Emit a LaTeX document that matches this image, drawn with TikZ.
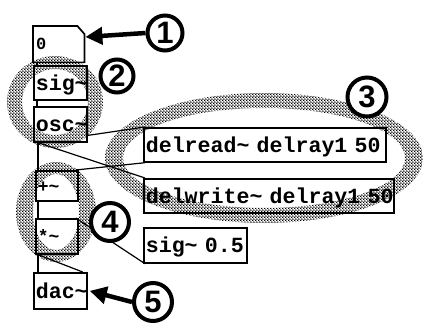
\documentclass[tikz,border=0pt]{standalone}
\usepackage{fontspec}
\newfontfamily\pdmono{Liberation Mono}
\newfontfamily\numfont{Liberation Sans}
\usetikzlibrary{calc,arrows.meta,patterns}
\pgfdeclarepatternformonly{halftone}{\pgfpointorigin}{\pgfpoint{3.2pt}{3.2pt}}{\pgfpoint{3.2pt}{3.2pt}}{%
  \pgfpathcircle{\pgfpoint{0.8pt}{0.8pt}}{1.05pt}%
  \pgfpathcircle{\pgfpoint{2.4pt}{2.4pt}}{1.05pt}%
  \pgfusepath{fill}}
\tikzset{
  pdbox/.style={draw, line width=1.7pt, fill=white, anchor=north west, inner xsep=2pt, inner ysep=0pt,
    text height=15pt, text depth=0pt, align=left, font=\pdmono\bfseries\fontsize{21.6}{21.6}\selectfont},
  smallbox/.style={pdbox, text height=13pt, font=\pdmono\bfseries\fontsize{18}{18}\selectfont},
  conn/.style={line width=1.2pt},
  ring/.style={pattern=halftone, even odd rule},
  numcirc/.style={circle, draw, line width=4pt, fill=white, inner sep=0pt, font=\numfont\bfseries\fontsize{31}{31}\selectfont},
  bigarrow/.style={line width=4.5pt, -{Triangle[length=17pt,width=17pt]}},
}
\begin{document}
\begin{tikzpicture}[x=1pt,y=-1pt]
\useasboundingbox (0,0) rectangle (423,323);
% box nodes
\node[anchor=north west, minimum width=51, minimum height=36, inner sep=0pt] (num) at (33,26) {};
\node[pdbox, minimum width=53, minimum height=34, text width=49] (sig) at (33,65) {\mbox{sig\textasciitilde}};
\node[pdbox, minimum width=53, minimum height=35, text width=49] (osc) at (33,106) {\mbox{osc\textasciitilde}};
\node[smallbox, minimum width=42, minimum height=30, text width=38] (plus) at (35,170) {\mbox{+\textasciitilde}};
\node[smallbox, minimum width=42, minimum height=35, text width=38] (times) at (35,218) {\mbox{*\textasciitilde}};
\node[pdbox, minimum width=53, minimum height=36, text width=49] (dac) at (33,272) {\mbox{dac\textasciitilde}};
\node[pdbox, minimum width=242, minimum height=34, text width=238] (delread) at (143,127) {\mbox{delread\textasciitilde{} delray1 50}};
\node[pdbox, minimum width=250, minimum height=34, text width=246] (delwrite) at (143,178) {\mbox{delwrite\textasciitilde{} delray1 50}};
\node[pdbox, minimum width=103, minimum height=35, text width=99] (sigb) at (143,227) {\mbox{sig\textasciitilde{} 0.5}};
% connections
\draw[conn] ($(num.south west)+(4,0)$) -- ($(sig.north west)+(4,0)$);
\draw[conn] ($(sig.south west)+(4,0)$) -- ($(osc.north west)+(4,0)$);
\draw[conn] ($(osc.south west)+(5,0)$) -- ($(plus.north west)+(3,0)$);
\draw[conn] ($(osc.south west)+(5,0)$) -- ($(delwrite.north west)+(2,0)$);
\draw[conn] ($(osc.south west)+(5,0)$) -- ($(delread.north west)+(2,0)$);
\draw[conn] ($(delread.south west)+(2,0)$) -- ($(plus.north east)+(-3,0)$);
\draw[conn] ($(plus.south west)+(3,0)$) -- ($(times.north west)+(3,0)$);
\draw[conn] ($(sigb.south west)+(2,0)$) -- ($(times.north east)+(-3,0)$);
\draw[conn] ($(times.south west)+(3,0)$) -- ($(dac.north west)+(5,0)$);
\draw[conn] ($(times.south west)+(3,0)$) -- ($(dac.north east)+(-5,0)$);
% boxes again, over the lines
\draw[line width=1.7pt, fill=white] (num.north west) -- ($(num.north east)+(-7,0)$) -- ($(num.north east)+(0,8)$) -- (num.south east) -- (num.south west) -- cycle;
\node[anchor=base west, inner sep=0pt, font=\pdmono\bfseries\fontsize{17}{17}\selectfont] (numt) at ($(num.south west)+(3,-13)$) {0};
\node[pdbox, minimum width=53, minimum height=34, text width=49] at (33,65) {\mbox{sig\textasciitilde}};
\node[pdbox, minimum width=53, minimum height=35, text width=49] at (33,106) {\mbox{osc\textasciitilde}};
\node[smallbox, minimum width=42, minimum height=30, text width=38] at (35,170) {\mbox{+\textasciitilde}};
\node[smallbox, minimum width=42, minimum height=35, text width=38] at (35,218) {\mbox{*\textasciitilde}};
\node[pdbox, minimum width=53, minimum height=36, text width=49] at (33,272) {\mbox{dac\textasciitilde}};
\node[pdbox, minimum width=242, minimum height=34, text width=238] at (143,127) {\mbox{delread\textasciitilde{} delray1 50}};
\node[pdbox, minimum width=250, minimum height=34, text width=246] at (143,178) {\mbox{delwrite\textasciitilde{} delray1 50}};
\node[pdbox, minimum width=103, minimum height=35, text width=99] at (143,227) {\mbox{sig\textasciitilde{} 0.5}};
% halftone groups
\fill[ring] (55,102) ellipse [x radius=48, y radius=46] (55,102) ellipse [x radius=33, y radius=33];
\fill[ring] (56,212) ellipse [x radius=40, y radius=50] (56,212) ellipse [x radius=23, y radius=38];
\fill[ring] (264,158) ellipse [x radius=159, y radius=65] (264,158) ellipse [x radius=141, y radius=50];
% numbered circles
\node[numcirc, minimum size=35] (c1) at (165,33) {1};
\node[numcirc, minimum size=33] (c2) at (117,76) {2};
\node[numcirc, minimum size=39] (c3) at (367,97) {3};
\node[numcirc, minimum size=38] (c4) at (110,222) {4};
\node[numcirc, minimum size=38] (c5) at (153,302) {5};
\coordinate (numtip) at ($(num.north east)+(1,11)$);
\coordinate (dactip) at ($(dac.east)+(2,0)$);
\draw[bigarrow] (c1.west) -- (numtip);
\draw[bigarrow] (c5.west) -- (dactip);
\end{tikzpicture}
\end{document}
